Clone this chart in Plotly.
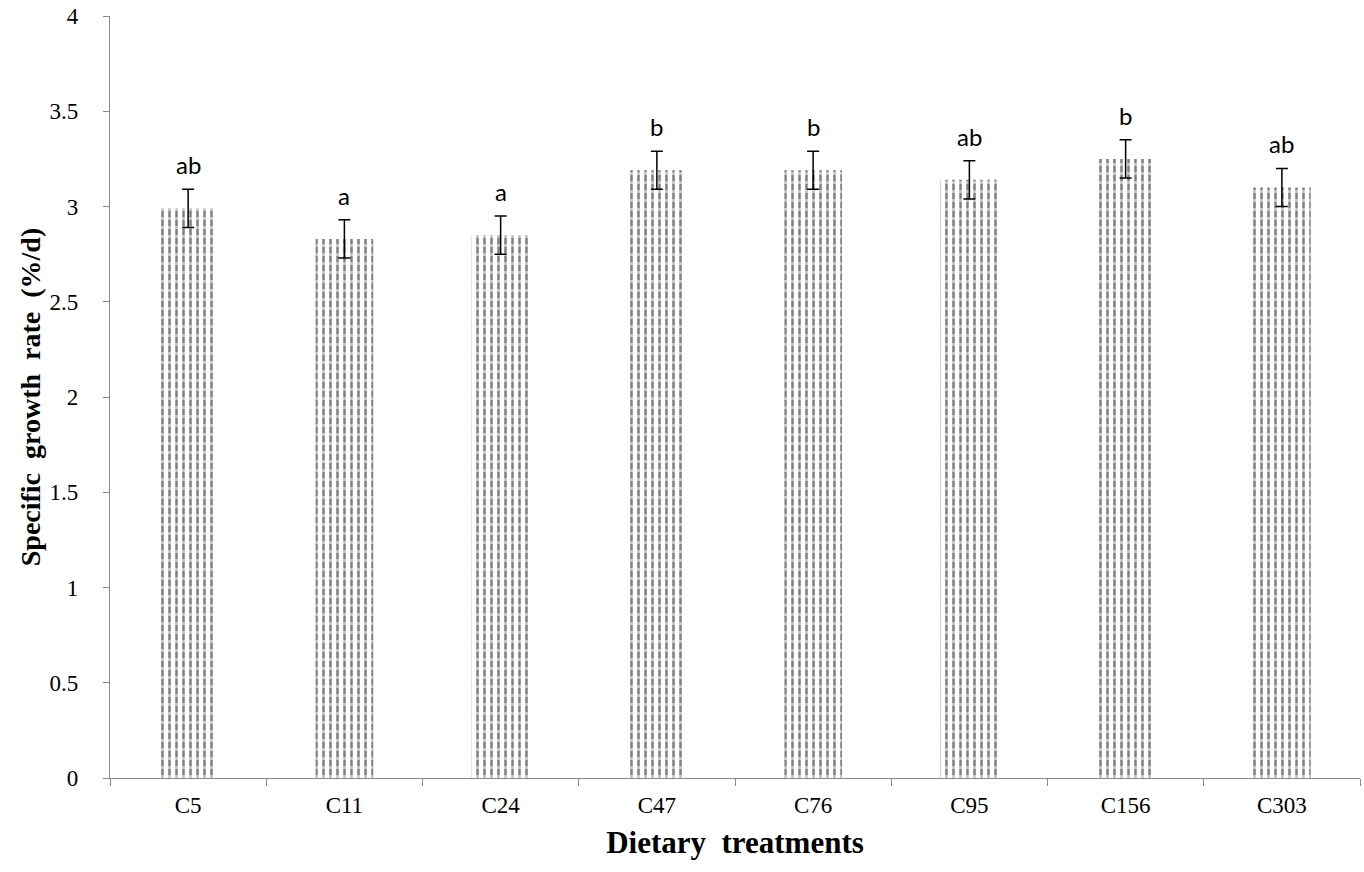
import plotly.graph_objects as go

categories = ["C5", "C11", "C24", "C47", "C76", "C95", "C156", "C303"]
sgr_values = [2.99, 2.83, 2.85, 3.19, 3.19, 3.14, 3.25, 3.10]
sgr_errors = [0.10, 0.10, 0.10, 0.10, 0.10, 0.10, 0.10, 0.10]
letters = ["ab", "a", "a", "b", "b", "ab", "b", "ab"]
y_ticks = [0, 0.5, 1, 1.5, 2, 2.5, 3, 3.5, 4]

fig = go.Figure()
# vertical lines
fig.add_trace(go.Bar(
    x=categories, y=sgr_values, width=0.37,
    marker=dict(color="white", line=dict(width=0),
                pattern=dict(shape="|", fgcolor="black", bgcolor="white",
                             size=7, solidity=0.36)),
    hoverinfo="skip",
))
# white horizontal breaks -> dashed look
fig.add_trace(go.Bar(
    x=categories, y=sgr_values, width=0.37,
    marker=dict(color="rgba(0,0,0,0)", line=dict(width=0),
                pattern=dict(shape="-", fgcolor="white", bgcolor="rgba(0,0,0,0)",
                             size=9, solidity=0.33)),
    error_y=dict(type="data", array=sgr_errors, visible=True,
                 color="black", thickness=1.5, width=6),
))

for c, v, e, t in zip(categories, sgr_values, sgr_errors, letters):
    fig.add_annotation(x=c, y=v + e, text=t, showarrow=False, yanchor="bottom",
                       yshift=8, font=dict(family="Lato, Open Sans, sans-serif", size=24, color="black"))

fig.update_layout(
    width=1364, height=872, paper_bgcolor="white", plot_bgcolor="white",
    margin=dict(l=110, r=4, t=14, b=94), showlegend=False, barmode="overlay",
    font=dict(family="Liberation Serif, Times New Roman, serif", color="black"),
)
fig.update_xaxes(
    type="category", showline=True, linecolor="#888888", linewidth=1.2,
    ticks="outside", tickson="boundaries", ticklen=7, tickcolor="#888888",
    tickfont=dict(size=23, family="Liberation Serif"), ticklabelstandoff=6,
    title=dict(text="<b>Dietary  treatments</b>", font=dict(size=31, family="Liberation Serif"), standoff=14),
    showgrid=False, zeroline=False,
)
fig.update_yaxes(
    range=[0, 4], tickvals=y_ticks, ticktext=[f"{v:g}" for v in y_ticks],
    showline=True, linecolor="#888888", linewidth=1.2,
    ticks="outside", ticklen=6, tickcolor="#888888",
    tickfont=dict(size=23, family="Liberation Serif"), ticklabelstandoff=20,
    title=dict(text="<b>Specific  growth  rate  (%/d)</b>", font=dict(size=28, family="Liberation Serif"), standoff=0),
    showgrid=False, zeroline=False,
)

fig.write_html("out.html")
